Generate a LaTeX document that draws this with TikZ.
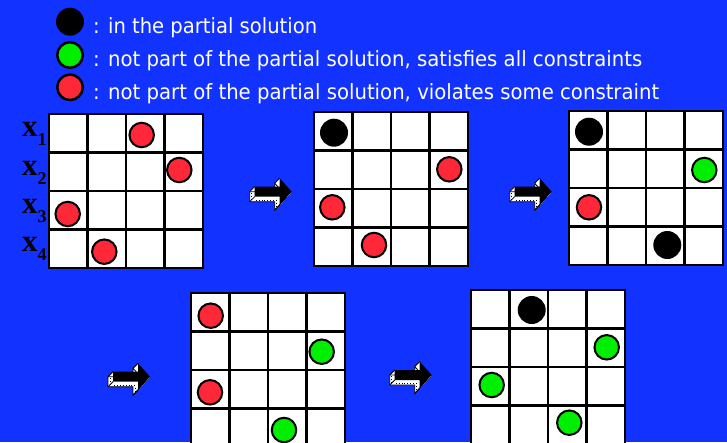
\documentclass[tikz,border=0pt]{standalone}
\usepackage{fontspec}
\setmainfont{DejaVu Sans}
\newfontfamily\serifb{Liberation Serif}
\definecolor{bgblue}{RGB}{18,50,255}
\definecolor{cred}{RGB}{255,40,56}
\definecolor{cgreen}{RGB}{0,238,0}
\tikzset{
  gridline/.style={line width=2.8pt, black, line cap=rect},
  redc/.style={circle, fill=cred, draw=black, line width=2pt, minimum size=24.5pt, inner sep=0pt},
  greenc/.style={circle, fill=cgreen, draw=black, line width=2pt, minimum size=24.5pt, inner sep=0pt},
  blackc/.style={circle, fill=black, minimum size=28pt, inner sep=0pt},
  legred/.style={redc, line width=2.5pt, minimum size=25.5pt},
  leggreen/.style={greenc, line width=2.5pt, minimum size=25.5pt},
  legtext/.style={anchor=base west, inner sep=0pt, text=white, font=\fontsize{21}{21}\selectfont},
  xlab/.style={anchor=base west, inner sep=0pt, text=black, font=\serifb\bfseries\fontsize{31}{31}\selectfont},
}
\newcommand\chessgrid[2]{%
  \fill[white] (#1,#2) rectangle ++(154,154);
  \foreach \i in {0,...,4} {
    \draw[gridline] (#1+\i*38.5,#2) -- ++(0,154);
    \draw[gridline] (#1,#2+\i*38.5) -- ++(154,0);
  }
}
\newcommand\arrowshape{(0,0) -- (-12,-13.5) -- (-12,-5) -- (-37,-5) -- (-37,5) -- (-12,5) -- (-12,13.5) -- cycle}
\newcommand\blockarrow[2]{%
  \begin{scope}[shift={(#1,#2)}]
    \foreach \k in {0.5,1,...,5} {
      \fill[white, shift={(-\k,\k)}] \arrowshape;
    }
    \draw[black, line width=0.8pt, shift={(-5,5)}] \arrowshape;
    \draw[black, line width=0.8pt] (-37,5) -- (-42,10) (-37,-5) -- (-42,0) (-12,13.5) -- (-17,18.5) (-12,-13.5) -- (-17,-8.5);
    \draw[black, line width=0.9pt, dotted] (-40,1) -- (-40,8) (-36,8.5) -- (-15,8.5) (-15,11) -- (-15,16);
    \fill[black] \arrowshape;
  \end{scope}
}
\begin{document}
\begin{tikzpicture}[x=1pt, y=-1pt]
\useasboundingbox (0,0) rectangle (727,442);
\clip (0,0) rectangle (727,442);
\fill[bgblue] (0,0) rectangle (727,442);

% legend
\node[blackc] (lb) at (70,21.7) {};
\node[leggreen] (lg) at (70,55) {};
\node[legred] (lr) at (70,87.3) {};
\node[legtext] (t1) at (93,33) {\resizebox{224pt}{\height}{: in the partial solution}};
\node[legtext] (t2) at (93,66) {\resizebox{549pt}{\height}{: not part of the partial solution, satisfies all constraints}};
\node[legtext] (t3) at (93,99) {\resizebox{566pt}{\height}{: not part of the partial solution, violates some constraint}};

% row labels
\node[xlab] (x1) at (22,136.7) {x\raisebox{-9pt}{\fontsize{18}{18}\selectfont 1}};
\node[xlab] (x2) at (22,175) {x\raisebox{-9pt}{\fontsize{18}{18}\selectfont 2}};
\node[xlab] (x3) at (22,213.3) {x\raisebox{-9pt}{\fontsize{18}{18}\selectfont 3}};
\node[xlab] (x4) at (22,251.7) {x\raisebox{-9pt}{\fontsize{18}{18}\selectfont 4}};

% grids
\chessgrid{49}{114}
\chessgrid{314}{112}
\chessgrid{569}{111}
\chessgrid{191}{293}
\chessgrid{471}{290}

% grid 1
\node[redc] (a1) at (141.7,135) {};
\node[redc] (a2) at (179.3,170) {};
\node[redc] (a3) at (67.7,214) {};
\node[redc] (a4) at (104.3,251.7) {};
% grid 2
\node[blackc] (b1) at (334,132.7) {};
\node[redc] (b2) at (449.3,169.3) {};
\node[redc] (b3) at (332.3,207.3) {};
\node[redc] (b4) at (374,245) {};
% grid 3
\node[blackc] (c1) at (589,131.7) {};
\node[greenc] (c2) at (704.3,170) {};
\node[redc] (c3) at (589,207.3) {};
\node[blackc] (c4) at (667.3,245) {};
% grid 4
\node[redc] (d1) at (210.7,315.7) {};
\node[greenc] (d2) at (321.7,351.7) {};
\node[redc] (d3) at (210,392.3) {};
\node[greenc] (d4) at (284,430) {};
% grid 5
\node[blackc] (e1) at (531.7,310) {};
\node[greenc] (e2) at (606.7,347.3) {};
\node[greenc] (e3) at (491.7,385) {};
\node[greenc] (e4) at (569.3,422.7) {};

% arrows
\blockarrow{291.7}{191.7}
\blockarrow{551.7}{191.7}
\blockarrow{150}{376.7}
\blockarrow{431.7}{375}
\end{tikzpicture}
\end{document}
